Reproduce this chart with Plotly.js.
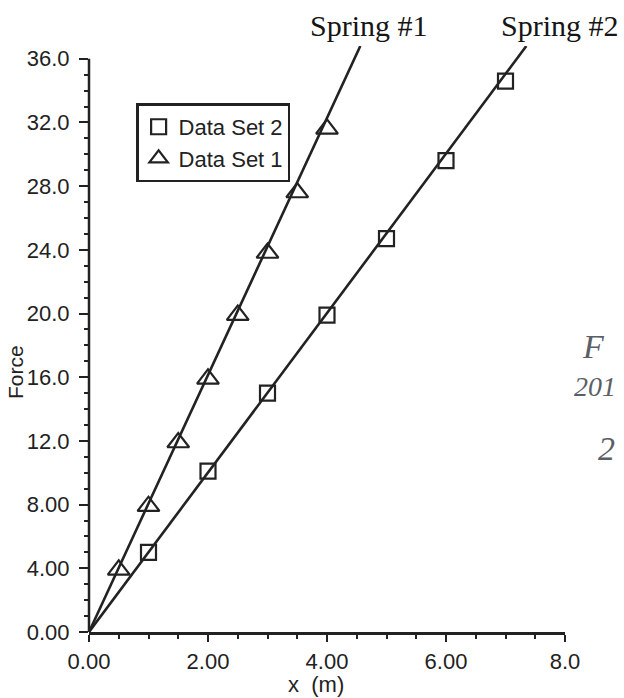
<!DOCTYPE html>
<html>
<head>
<meta charset="utf-8">
<script src="https://cdn.plot.ly/plotly-3.0.1.min.js"></script>
<style>html,body{margin:0;padding:0;background:#fff;}#chart{width:624px;height:698px;}</style>
</head>
<body>
<div id="chart"></div>
<script>
// Data Set 1 (Spring #1, triangles)
const xSet1 = [0.5, 1.0, 1.5, 2.0, 2.5, 3.0, 3.5, 4.0];
const ySet1 = [3.9, 7.9, 11.9, 15.9, 19.9, 23.8, 27.6, 31.6];
// Data Set 2 (Spring #2, squares)
const xSet2 = [1, 2, 3, 4, 5, 6, 7];
const ySet2 = [5.0, 10.1, 15.0, 19.9, 24.7, 29.6, 34.6];
// Fitted lines
const fit1X = [0, 4.56];
const fit1Y = [0, 36.8];
const fit2X = [0, 7.35];
const fit2Y = [0, 36.8];
// Tick labels
const xTickVals = [0, 2, 4, 6, 8];
const xTickText = ["0.00", "2.00", "4.00", "6.00", "8.0"];
const yTickVals = [0, 4, 8, 12, 16, 20, 24, 28, 32, 36];
const yTickText = ["0.00", "4.00", "8.00", "12.0", "16.0", "20.0", "24.0", "28.0", "32.0", "36.0"];
const lineLabels = ["Spring #1", "Spring #2"];

const ink = '#222222';
const sans = 'Liberation Sans, Arial, sans-serif';
const serif = 'Liberation Serif, Times New Roman, serif';

const traces = [
  {x: fit1X, y: fit1Y, mode: 'lines', line: {color: ink, width: 2.6}, showlegend: false, hoverinfo: 'skip'},
  {x: fit2X, y: fit2Y, mode: 'lines', line: {color: ink, width: 2.6}, showlegend: false, hoverinfo: 'skip'},
  {x: xSet2, y: ySet2, mode: 'markers', name: 'Data Set 2',
   marker: {symbol: 'square-open', size: 15, color: ink, line: {width: 2.2, color: ink}}},
  {x: xSet1, y: ySet1, mode: 'markers', name: 'Data Set 1',
   marker: {symbol: 'triangle-up-open', size: 19, color: ink, line: {width: 2.2, color: ink}}}
];

const L = 89, R = 59, T = 46, B = 66;
const layout = {
  width: 624, height: 698,
  margin: {l: L, r: R, t: T, b: B, pad: 0},
  paper_bgcolor: '#ffffff', plot_bgcolor: '#ffffff',
  font: {family: sans, color: ink, size: 22},
  showlegend: true,
  legend: {
    x: 0.099, y: 0.902, xanchor: 'left', yanchor: 'top',
    bgcolor: '#ffffff', bordercolor: ink, borderwidth: 2.5,
    font: {family: sans, size: 22, color: ink},
    tracegroupgap: 0, itemwidth: 30
  },
  xaxis: {
    range: [0, 8], showgrid: false, zeroline: false,
    showline: true, linecolor: ink, linewidth: 2.5,
    tickmode: 'array', tickvals: xTickVals, ticktext: xTickText,
    ticks: 'outside', ticklen: 7, tickwidth: 2, tickcolor: ink,
    minor: {tickmode: 'linear', tick0: 0, dtick: 0.5, ticks: 'outside', ticklen: 4, tickwidth: 2, tickcolor: ink, showgrid: false},
    tickfont: {family: sans, size: 22, color: ink},
    ticklabelstandoff: 1,
    fixedrange: true
  },
  yaxis: {
    range: [0, 36.8], showgrid: false, zeroline: false,
    showline: false,
    tickmode: 'array', tickvals: yTickVals, ticktext: yTickText,
    ticks: 'outside', ticklen: 9, tickwidth: 2, tickcolor: ink,
    minor: {tickmode: 'linear', tick0: 0, dtick: 1, ticks: 'outside', ticklen: 4, tickwidth: 2, tickcolor: ink, showgrid: false},
    tickfont: {family: sans, size: 22, color: ink},
    ticklabelstandoff: 5,
    fixedrange: true
  },
  shapes: [
    {type: 'line', xref: 'paper', yref: 'y', x0: 0, x1: 0, y0: 0, y1: 36, line: {color: ink, width: 2.5}}
  ],
  annotations: [
    {text: 'x  (m)', xref: 'paper', yref: 'paper', x: (316 - L) / 476, y: (632 - 685) / 586,
     xanchor: 'center', yanchor: 'middle', showarrow: false, font: {family: sans, size: 22, color: ink}},
    {text: 'Force', xref: 'paper', yref: 'paper', x: 0, xshift: -74, y: (632 - 372) / 586,
     xanchor: 'center', yanchor: 'middle', textangle: -90, showarrow: false, font: {family: sans, size: 21, color: ink}},
    {text: lineLabels[0], xref: 'paper', yref: 'paper', x: (369 - L) / 476, y: (632 - 25) / 586,
     xanchor: 'center', yanchor: 'middle', showarrow: false, font: {family: serif, size: 30, color: '#151515'}},
    {text: lineLabels[1], xref: 'paper', yref: 'paper', x: (560 - L) / 476, y: (632 - 25) / 586,
     xanchor: 'center', yanchor: 'middle', showarrow: false, font: {family: serif, size: 30, color: '#151515'}},
    {text: '<i>F</i>', xref: 'paper', yref: 'paper', x: (580 - L) / 476, y: (632 - 346) / 586,
     xanchor: 'left', yanchor: 'middle', showarrow: false, font: {family: serif, size: 34, color: '#5a5f66'}},
    {text: '<i>201</i>', xref: 'paper', yref: 'paper', x: (572 - L) / 476, y: (632 - 386) / 586,
     xanchor: 'left', yanchor: 'middle', showarrow: false, font: {family: serif, size: 28, color: '#5a5f66'}},
    {text: '<i>2</i>', xref: 'paper', yref: 'paper', x: (596 - L) / 476, y: (632 - 448) / 586,
     xanchor: 'left', yanchor: 'middle', showarrow: false, font: {family: serif, size: 34, color: '#5a5f66'}}
  ]
};

Plotly.newPlot('chart', traces, layout, {staticPlot: true, displayModeBar: false});
</script>
</body>
</html>
